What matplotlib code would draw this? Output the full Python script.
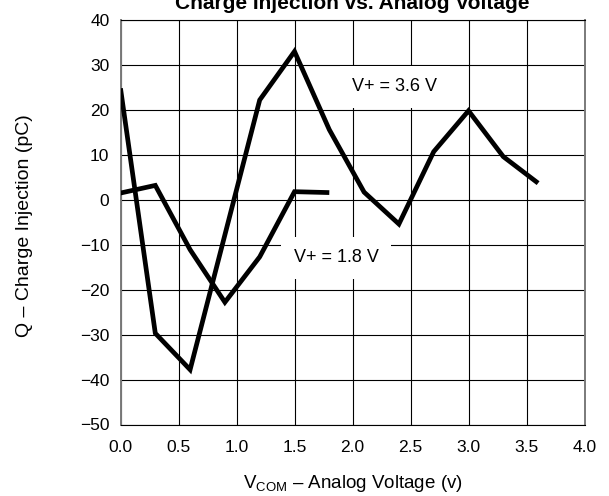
import matplotlib
matplotlib.use("Agg")
import matplotlib.pyplot as plt
import numpy as np

plt.rcParams['font.family'] = ['Liberation Sans', 'DejaVu Sans']
plt.rcParams['mathtext.fontset'] = 'custom'
plt.rcParams['mathtext.rm'] = 'Liberation Sans'
plt.rcParams['mathtext.it'] = 'Liberation Sans:italic'
plt.rcParams['mathtext.bf'] = 'Liberation Sans:bold'

# Analog voltage steps (V)
vcom_36 = [0.0, 0.3, 0.6, 0.9, 1.2, 1.5, 1.8, 2.1, 2.4, 2.7, 3.0, 3.3, 3.6]
vcom_18 = [0.0, 0.3, 0.6, 0.9, 1.2, 1.5, 1.8]

# Charge injection (pC)
q_36 = [24.8, -29.7, -37.8, -7.8, 22.2, 33.0, 15.6, 1.7, -5.4, 10.7, 19.8, 9.6, 3.7]
q_18 = [1.5, 3.2, -11.1, -22.8, -12.7, 1.8, 1.6]

x_ticks = [0.0, 0.5, 1.0, 1.5, 2.0, 2.5, 3.0, 3.5, 4.0]
y_ticks = [-50, -40, -30, -20, -10, 0, 10, 20, 30, 40]

fig = plt.figure(figsize=(6.09, 4.96), dpi=100)
ax = fig.add_axes([120.5 / 609, 1 - 424.5 / 496, 464 / 609, 404.5 / 496])

line_kw = dict(color='black', lw=3.4, solid_joinstyle='miter',
               solid_capstyle='butt', zorder=3)
ax.plot(vcom_36, q_36, **line_kw)
ax.plot(vcom_18, q_18, **line_kw)

ax.set_xlim(0, 4)
ax.set_ylim(-50, 40)
ax.set_xticks(x_ticks)
ax.set_xticklabels([f"{v:.1f}" for v in x_ticks])
ax.set_yticks(y_ticks)
ax.set_yticklabels([str(v).replace('-', '\u2212') for v in y_ticks])
ax.tick_params(axis='both', length=0, labelsize=12.5, colors='black')
ax.tick_params(axis='x', pad=11)
ax.tick_params(axis='y', pad=8)

ax.grid(True, color='black', lw=0.8, zorder=1)
ax.set_axisbelow(True)
for side in ('left', 'right'):
    ax.spines[side].set_color('#7a7a7a')
    ax.spines[side].set_linewidth(1.4)
for side in ('top', 'bottom'):
    ax.spines[side].set_color('black')
    ax.spines[side].set_linewidth(0.8)

box = dict(boxstyle='square,pad=0.7', facecolor='white', edgecolor='none')
ax.text(2.366, 25.1, 'V+ = 3.6 V', fontsize=13, ha='center', va='center',
        bbox=box, zorder=2)
ax.text(1.858, -12.9, 'V+ = 1.8 V', fontsize=13, ha='center', va='center',
        bbox=box, zorder=2)

cx = (120.5 + 464 / 2) / 609
fig.text(cx, 1 - 9 / 496, 'Charge Injection vs. Analog Voltage',
         fontsize=15, fontweight='bold', ha='center', va='baseline')
fig.text(cx, 1 - 488 / 496,
         r'V$\mathregular{_{COM}}$ \u2013 Analog Voltage (v)'.replace('\\u2013', '\u2013'),
         fontsize=13.5, ha='center', va='baseline')
fig.text(25 / 609, 1 - 226 / 496, 'Q \u2013 Charge Injection (pC)',
         fontsize=14, rotation=90, ha='center', va='center')

fig.savefig('out.png', dpi=100)
